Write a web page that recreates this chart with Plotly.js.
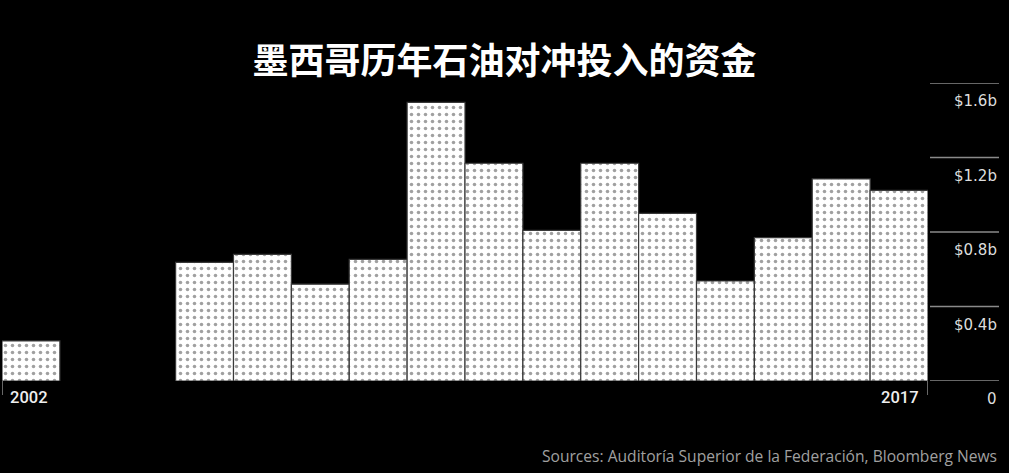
<!DOCTYPE html>
<html>
<head>
<meta charset="utf-8">
<script src="https://cdn.plot.ly/plotly-3.0.1.min.js"></script>
<style>
  html, body { margin: 0; padding: 0; background: #000; }
  #chart { width: 1009px; height: 473px; }
</style>
</head>
<body>
<div id="chart"></div>
<script>
// Data (billions USD)
const years = [2002, 2003, 2004, 2005, 2006, 2007, 2008, 2009, 2010, 2011, 2012, 2013, 2014, 2015, 2016, 2017];
const values = [0.215, null, null, 0.637, 0.68, 0.52, 0.653, 1.496, 1.169, 0.809, 1.169, 0.90, 0.537, 0.77, 1.085, 1.024];
const yTickVals = [0, 0.4, 0.8, 1.2, 1.6];
const yTickText = ['0', '$0.4b', '$0.8b', '$1.2b', '$1.6b'];
const xLabelYears = [2002, 2017];
const titleText = '墨西哥历年石油对冲投入的资金';
const sourceText = 'Sources: Auditoría Superior de la Federación, Bloomberg News';

const PLOT_L = 2, PLOT_R = 81, PLOT_T = 83, PLOT_B = 92;
const plotW = 1009 - PLOT_L - PLOT_R;
const plotH = 473 - PLOT_T - PLOT_B;
const gridX0 = (930 - PLOT_L) / plotW;
const gridX1 = (999 - PLOT_L) / plotW;

const tickFont = { family: '"DejaVu Sans", sans-serif', size: 15, color: '#dddddd' };
const yearFont = { family: 'Roboto, "DejaVu Sans", sans-serif', size: 16.5, color: '#eeeeee', weight: 500 };

const trace = {
  type: 'bar',
  x: years,
  y: values,
  width: 1,
  marker: {
    color: '#ffffff',
    line: { color: '#3a3a3a', width: 1.2 },
    pattern: { shape: '.', fgcolor: '#a0a0a0', bgcolor: '#ffffff', size: 7, solidity: 0.2, fillmode: 'replace' }
  },
  hoverinfo: 'skip'
};

const shapes = [];
yTickVals.forEach(v => {
  shapes.push({
    type: 'line', xref: 'paper', yref: 'y',
    x0: gridX0, x1: gridX1, y0: v, y1: v,
    line: { color: '#8a8a8a', width: 1.5 }
  });
});
// small vertical ticks at the first bar's left edge and last bar's right edge
const xMin = years[0] - 0.5, xMax = years[years.length - 1] + 0.5;
[xMin, xMax].forEach(xv => {
  shapes.push({
    type: 'line', xref: 'x', yref: 'paper',
    x0: xv, x1: xv, y0: 0, y1: -14 / plotH,
    line: { color: '#8a8a8a', width: 1.5 }
  });
});

const annotations = [];
yTickVals.forEach((v, i) => {
  annotations.push({
    xref: 'paper', yref: 'y', x: gridX1, y: v,
    xanchor: 'right', yanchor: 'middle', yshift: -18,
    text: yTickText[i], showarrow: false,
    font: tickFont
  });
});
annotations.push({
  xref: 'x', yref: 'paper', x: xLabelYears[0] - 0.5, y: -16 / plotH,
  xanchor: 'left', yanchor: 'middle', xshift: 6,
  text: String(xLabelYears[0]), showarrow: false,
  font: yearFont
});
annotations.push({
  xref: 'x', yref: 'paper', x: xLabelYears[1] + 0.5, y: -16 / plotH,
  xanchor: 'right', yanchor: 'middle', xshift: -7,
  text: String(xLabelYears[1]), showarrow: false,
  font: yearFont
});
annotations.push({
  xref: 'paper', yref: 'paper', x: gridX1, y: -75 / plotH,
  xanchor: 'right', yanchor: 'middle',
  text: sourceText, showarrow: false,
  font: { family: '"Open Sans", Lato, sans-serif', size: 15.6, color: '#a0a0a0' }
});

const layout = {
  width: 1009, height: 473,
  margin: { l: PLOT_L, r: PLOT_R, t: PLOT_T, b: PLOT_B, pad: 0 },
  paper_bgcolor: '#000000',
  plot_bgcolor: '#000000',
  showlegend: false,
  bargap: 0,
  title: {
    text: titleText,
    x: 0.5, xref: 'container', xanchor: 'center',
    y: 1 - 61 / 473, yref: 'container', yanchor: 'middle',
    font: { family: '"Noto Sans CJK SC", sans-serif', size: 36, color: '#ffffff', weight: 700 }
  },
  xaxis: {
    range: [xMin, xMax],
    showgrid: false, zeroline: false, showline: false,
    showticklabels: false, ticks: '', fixedrange: true
  },
  yaxis: {
    range: [0, 1.6],
    showgrid: false, zeroline: false, showline: false,
    showticklabels: false, ticks: '', fixedrange: true
  },
  shapes: shapes,
  annotations: annotations
};

Plotly.newPlot('chart', [trace], layout, { displayModeBar: false, staticPlot: true });
</script>
</body>
</html>
